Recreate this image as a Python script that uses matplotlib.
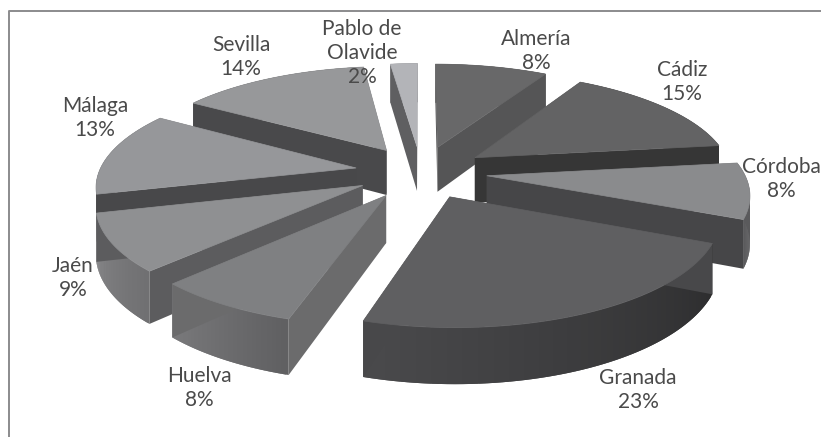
import numpy as np
import matplotlib
matplotlib.use("Agg")
import matplotlib.pyplot as plt
from matplotlib.patches import Polygon
from matplotlib.lines import Line2D

# Data, clockwise from the top of the pie (shares in %, shown rounded)
categories = ["Almería", "Cádiz", "Córdoba", "Granada", "Huelva", "Jaén", "Málaga", "Sevilla", "Pablo de\nOlavide"]
values = [8.33, 14.67, 8.49, 23.23, 7.61, 8.67, 12.89, 14.11, 2.0]

# Styles per slice
top_colors = ["#686869", "#636364", "#8a8b8d", "#5f5f61", "#7f8082", "#8f9092", "#96979a", "#97989a", "#b3b4b8"]
wall_colors = ["#555556", "#363636", "#464648", "#48484a", "#6b6b6c", "#5c5c5e", "#48484a", "#49494b", "#5f5f61"]
rim_from = ["#555556", "#363636", "#5a5a5c", "#2e2e2f", "#606062", "#707072", "#4a4a4c", "#49494b", "#5f5f61"]
rim_to = ["#555556", "#363636", "#5a5a5c", "#4a4a4c", "#7a7a7c", "#858587", "#4a4a4c", "#49494b", "#5f5f61"]
label_xy = [(536, 51), (682, 82), (781, 179), (638, 390), (199, 388), (73, 278), (95, 118), (241, 57), (362, 53)]

# Projection of the pie
CX, CY, SX, SY, K, DEPTH, EXPLODE = 421, 172, 257, 102.7, 0.151, 46, 0.257
TEXT = "#4a4a4a"


def project(x, y, drop=0.0):
    w = 1 + K * y
    return CX + SX * x / w, CY - SY * y / w + drop * DEPTH / w


def hex2rgb(c):
    return np.array(matplotlib.colors.to_rgb(c))


fig = plt.figure(figsize=(8.21, 4.37), dpi=100, facecolor="white")
ax = fig.add_axes([0, 0, 1, 1])
ax.set_xlim(0, 821)
ax.set_ylim(437, 0)
ax.axis("off")

fractions = np.array(values, dtype=float) / sum(values) * 2 * np.pi
ends = np.cumsum(fractions)
starts = ends - fractions
mids = (starts + ends) / 2

# Painter's order: farthest slice first
order = sorted(range(len(values)), key=lambda j: -np.cos(mids[j]))


def wall(px, py, color, z):
    a = [project(x, y) for x, y in zip(px, py)]
    b = [project(x, y, 1) for x, y in zip(px[::-1], py[::-1])]
    ax.add_patch(Polygon(a + b, closed=True, facecolor=color, edgecolor="none", zorder=z))


for pos, i in enumerate(order):
    ox, oy = EXPLODE * np.sin(mids[i]), EXPLODE * np.cos(mids[i])
    th = np.linspace(starts[i], ends[i], 60)
    rx, ry = ox + np.sin(th), oy + np.cos(th)
    base = 10 * pos
    # overlapping strips so that no seams show along the rim
    for k in range(len(th) - 1):
        t = k / (len(th) - 2)
        col = hex2rgb(rim_from[i]) * (1 - t) + hex2rgb(rim_to[i]) * t
        wall(rx[k:k + 3], ry[k:k + 3], col, base + 1 - t * 0.5)
    wall(np.array([ox, rx[0]]), np.array([oy, ry[0]]), wall_colors[i], base + 2)
    wall(np.array([ox, rx[-1]]), np.array([oy, ry[-1]]), wall_colors[i], base + 2)
    top = [project(ox, oy)] + [project(x, y) for x, y in zip(rx, ry)]
    ax.add_patch(Polygon(top, closed=True, facecolor=top_colors[i], edgecolor=top_colors[i], lw=0.5, zorder=base + 3))

# Chart frame (only the top and left edges are inside the picture)
ax.add_line(Line2D([821, 9, 9], [11, 11, 437], color="#8b8b8d", lw=1.4, zorder=200))

for name, val, (x, y) in zip(categories, values, label_xy):
    ax.text(x, y, f"{name}\n{round(val)}%", ha="center", va="center", fontsize=15, family="Lato",
            color=TEXT, linespacing=1.22, zorder=300)

fig.savefig("out.png", dpi=100)
